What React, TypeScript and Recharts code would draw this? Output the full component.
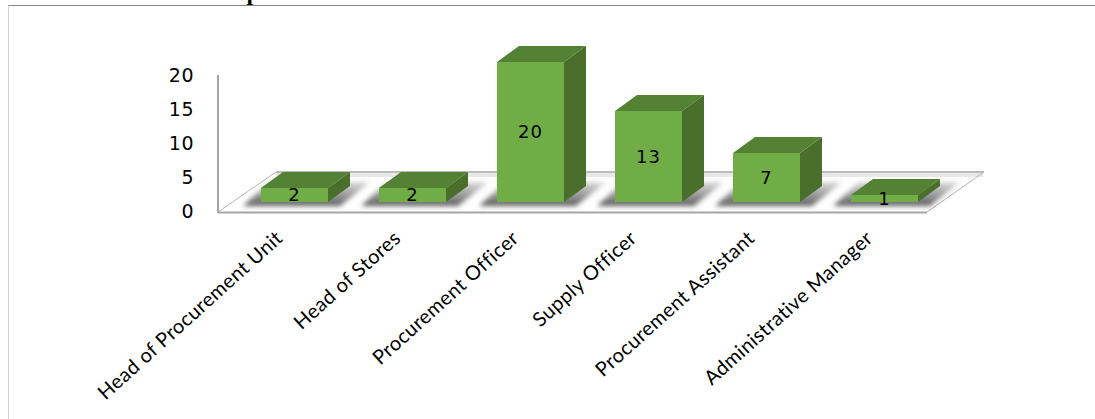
import React from 'react';
import { BarChart, Bar, XAxis, YAxis, LabelList } from 'recharts';

const categories = [
  'Head of Procurement Unit',
  'Head of Stores',
  'Procurement Officer',
  'Supply Officer',
  'Procurement Assistant',
  'Administrative Manager',
];
const respondents = [2, 2, 20, 13, 7, 1];
const yTicks = [0, 5, 10, 15, 20];

const data = categories.map((name, i) => ({ name, value: respondents[i] }));

const labelFont = 'Lato, "Open Sans", sans-serif';

// depth of the fake 3D box
const DX = 22;
const DY = -16;

const Box3D = (props: any) => {
  const { x, y, width, height } = props;
  const r = x + width;
  const b = y + height;
  return (
    <g>
      {/* soft shadow on the floor */}
      <polygon
        points={`${x - 18},${b + 4} ${r + 12},${b + 4} ${r + 42},${b - 20} ${x + 8},${b - 20}`}
        fill="url(#floorShadow)"
        filter="url(#shadowBlur)"
      />
      <polygon points={`${r},${y} ${r + DX},${y + DY} ${r + DX},${b + DY} ${r},${b}`} fill="#4a6e2c" />
      <polygon points={`${x},${y} ${x + DX},${y + DY} ${r + DX},${y + DY} ${r},${y}`} fill="#548235" />
      <rect x={x} y={y} width={width} height={height} fill="#70ad47" />
    </g>
  );
};

const CategoryTick = (props: any) => {
  const { x, y, payload } = props;
  return (
    <text
      transform={`translate(${x - 10},${y + 9}) rotate(-42)`}
      textAnchor="end"
      fontFamily={labelFont}
      fontSize={20}
      letterSpacing={0.4}
      fill="#000"
    >
      {payload.value}
    </text>
  );
};

// floor and wall of the 3D plot
const Floor = () => (
  <g>
    <polygon points="218,212 276,172 984,172 927,212" fill="#fff" />
    <rect x={276} y={173} width={707} height={4} fill="#e8e8e8" />
    <line x1={276} y1={172} x2={984} y2={172} stroke="#a6a6a6" strokeWidth={1.5} />
    <line x1={218} y1={212.5} x2={927} y2={212.5} stroke="#a6a6a6" strokeWidth={2} />
    <line x1={218} y1={212} x2={276} y2={172} stroke="#b5b5b5" strokeWidth={1} />
    <line x1={927} y1={212} x2={984} y2={172} stroke="#b5b5b5" strokeWidth={1} />
    <line x1={218} y1={75} x2={218} y2={213} stroke="#a6a6a6" strokeWidth={2} />
  </g>
);

export default function App() {
  return (
    <div style={{ position: 'absolute', left: 0, top: 0, width: 1095, height: 419, overflow: 'hidden', background: '#fff' }}>
      <div
        style={{
          position: 'absolute',
          right: 755,
          top: -21,
          font: 'bold 24px "Liberation Serif", serif',
          whiteSpace: 'nowrap',
        }}
      >
        4.2 Job Title of Respondents
      </div>
      <div style={{ position: 'absolute', left: 8, top: 5, right: 0, bottom: 0, borderTop: '1px solid #868686', borderLeft: '1px solid #d0d0d0' }} />
      <BarChart
        width={1095}
        height={419}
        data={data}
        barSize={67}
        margin={{ top: 62, right: 152, bottom: 8, left: 155 }}
        style={{ position: 'absolute', left: 0, top: 0, overflow: 'visible' }}
      >
        <defs>
          <linearGradient id="floorShadow" x1="0" y1="0" x2="0" y2="1">
            <stop offset="0" stopColor="#555" stopOpacity={0.2} />
            <stop offset="0.75" stopColor="#555" stopOpacity={0.75} />
            <stop offset="1" stopColor="#555" stopOpacity={1} />
          </linearGradient>
          <filter id="shadowBlur" x="-20%" y="-40%" width="140%" height="180%">
            <feGaussianBlur stdDeviation="2.5" />
          </filter>
        </defs>
        <Floor />
        <XAxis
          dataKey="name"
          interval={0}
          height={200}
          axisLine={false}
          tickLine={false}
          tickSize={0}
          tickMargin={20}
          tick={<CategoryTick />}
        />
        {/* visible axis sits on the back wall, so its scale differs from the bars */}
        <YAxis
          yAxisId="wall"
          width={80}
          domain={[0, 21.91]}
          allowDataOverflow
          ticks={yTicks}
          axisLine={false}
          tickLine={false}
          tickSize={0}
          tickMargin={41}
          tick={{ fill: '#000', fontSize: 19, fontFamily: '"DejaVu Sans", sans-serif', letterSpacing: 0.5 }}
        />
        <YAxis yAxisId="bars" hide width={0} domain={[-1.2857, 20]} />
        <Bar yAxisId="bars" dataKey="value" shape={<Box3D />} isAnimationActive={false}>
          <LabelList
            dataKey="value"
            position="center"
            fill="#000"
            fontSize={18}
            fontFamily={'"DejaVu Sans", sans-serif'}
            letterSpacing={1}
          />
        </Bar>
      </BarChart>
    </div>
  );
}
